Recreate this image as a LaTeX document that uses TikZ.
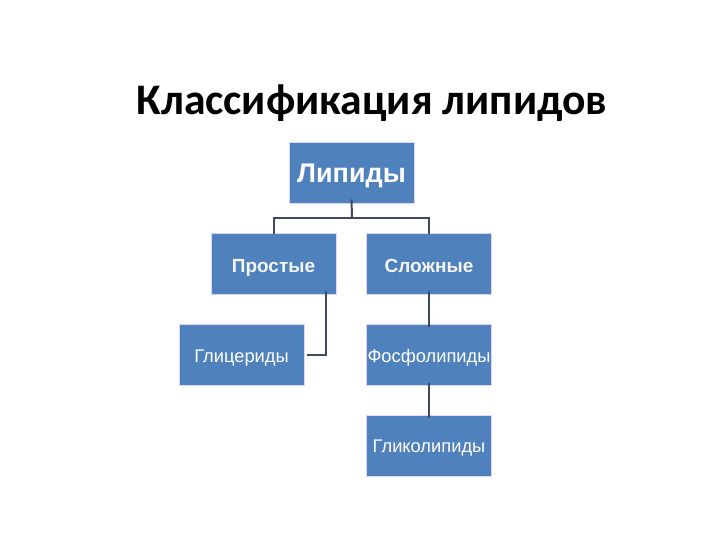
\documentclass[tikz,border=0pt]{standalone}
\usepackage{fontspec}
\setmainfont{Liberation Sans}
\newfontfamily\titlefont{Carlito}
\tikzset{
  box/.style={draw=white!85!blue, line width=0.6pt, fill=boxblue, minimum width=125pt, minimum height=61pt, inner sep=0pt, text=white, text height=14pt, text depth=0pt, font=\fontsize{18.3}{21}\selectfont},
  bigbox/.style={box, text height=21pt, font=\fontsize{27}{31}\selectfont\bfseries},
  midbox/.style={box, text height=17pt, font=\fontsize{19}{22}\selectfont\bfseries, text=white!92!gray},
  conn/.style={draw=linegray, line width=2pt}
}
\definecolor{boxblue}{HTML}{4F81BD}
\definecolor{linegray}{HTML}{3D4B5C}
\begin{document}
\begin{tikzpicture}[x=1pt,y=-1pt]
\useasboundingbox (0,0) rectangle (720,540);
\node[font=\titlefont\fontsize{43.6}{50}\selectfont\bfseries, anchor=base] (title) at (372,115) {Классификация липидов};
\node[bigbox] (lip) at (351.5,172.5) {Липиды};
\node[midbox] (pro) at (273.5,263.5) {Простые};
\node[midbox] (slo) at (429,263.5) {Сложные};
\node[box] (gli) at (241.5,355) {Глицериды};
\node[box] (fos) at (429,355) {Фосфолипиды};
\node[box] (glk) at (429,445.5) {Гликолипиды};
\coordinate (j) at (352,218);
\draw[conn] ([yshift=4pt]lip.south) -- (j);
\draw[conn] ([yshift=-1pt]pro.north) -- (pro.north |- j) -- (slo.north |- j) -- ([yshift=-1pt]slo.north);
\draw[conn] ([xshift=52pt,yshift=3pt]pro.south) -- ([xshift=52pt]pro.south |- gli.east) -- ([xshift=3pt]gli.east);
\draw[conn] ([yshift=3pt]slo.south) -- ([yshift=-3pt]fos.north);
\draw[conn] ([yshift=3pt]fos.south) -- ([yshift=-3pt]glk.north);
\end{tikzpicture}
\end{document}
